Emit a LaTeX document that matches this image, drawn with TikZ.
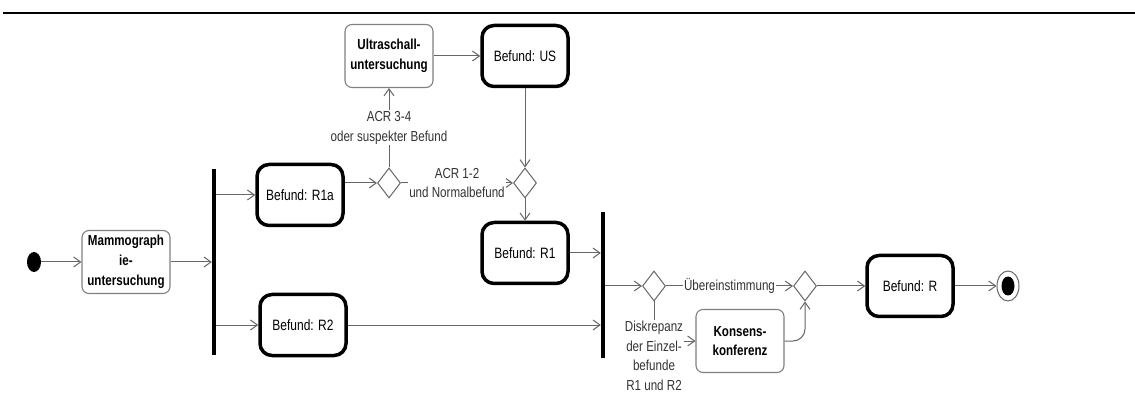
\documentclass[tikz,border=0pt]{standalone}
\usepackage{fontspec}
\setmainfont{Liberation Sans}[FakeStretch=0.8]
\usetikzlibrary{shapes.geometric, positioning, arrows.meta}

\begin{document}
\begin{tikzpicture}[x=1pt,y=-1pt,
% Action and result styles
    act/.style={rectangle,rounded corners=7pt,draw=black!50,line width=1.1pt,
		minimum width=88pt,minimum height=63pt,align=center,
		font=\bfseries\fontsize{14.5}{19.8}\selectfont},
    res/.style={rectangle,rounded corners=12pt,draw,line width=3.5pt,
		minimum width=86pt,minimum height=61pt,
		font=\fontsize{15}{18}\selectfont},
% Decision, fork and end point style
    dec/.style={diamond,draw=black!60,line width=1pt,inner sep=0pt,
		minimum width=23pt,minimum height=30pt},
    bar/.style={rectangle,fill=black,inner sep=0pt,minimum width=4pt},
    start/.style={ellipse,fill=black,inner sep=0pt,
		minimum width=14pt,minimum height=20pt},
    stop/.style={ellipse,draw=black!60,line width=1pt,inner sep=0pt,
		minimum width=22pt,minimum height=30pt},
% Label style
    lbl/.style={fill=white,inner sep=1pt,align=center,text=black!80,
		font=\fontsize{14.5}{19.6}\selectfont},
% Connector style
    line/.style={draw=black!60,line width=1pt},
    flow/.style={line,-{Straight Barb[length=7pt,width=10pt]}}
    ]
%% Page rule and frame
   \useasboundingbox (0,0) rectangle (1135,403);
   \draw [line width=2.5pt] (3,13) -- (1135,13);
%% Place nodes
   \node (ini) [start]			at (34,262)	{};
   \node (mam) [act]			at (126,262)	{Mammograph\\ie-\\untersuchung};
   \node (f1)  [bar,minimum height=185pt]	at (214,262)	{};
   \node (r1a) [res]			at (300,195)	{Befund: R1a};
   \node (r2)  [res]			at (303,325)	{Befund: R2};
   \node (d1)  [dec]			at (389,183)	{};
   \node (uss) [act]			at (389,56)	{Ultraschall-\\untersuchung};
   \node (us)  [res]			at (525,56)	{Befund: US};
   \node (d2)  [dec]			at (525,183)	{};
   \node (r1)  [res]			at (525,253)	{Befund: R1};
   \node (f2)  [bar,minimum height=145pt]	at (603,285)	{};
   \node (d3)  [dec]			at (654,286)	{};
   \node (dis) [lbl]			at (654,356)	{Diskrepanz\\der Einzel-\\befunde\\R1 und R2};
   \node (kon) [act]			at (740,341)	{Konsens-\\konferenz};
   \node (d4)  [dec]			at (805,286)	{};
   \node (r)   [res]			at (910,286)	{Befund: R};
   \node (fin) [stop]			at (1008,286)	{};
   \fill (fin.center) ellipse [x radius=6.5pt,y radius=9.5pt];
%% Draw flows
   \draw [flow] (ini) -- (mam);
   \draw [flow] (mam) -- (f1);
   \draw [flow] (f1.east |- r1a) -- (r1a);
   \draw [flow] (f1.east |- r2) -- (r2);
   \draw [flow] (r1a.east |- d1) -- (d1);
   \draw [flow] (d1) -- node [lbl] {ACR 3-4\\oder suspekter Befund} (uss);
   \draw [flow] (d1) -- node [lbl] {ACR 1-2\\und Normalbefund} (d2);
   \draw [flow] (uss) -- (us);
   \draw [flow] (us) -- (d2);
   \draw [flow] (d2) -- (r1);
   \draw [flow] (r1) -- (r1 -| f2.west);
   \draw [flow] (r2) -- (r2 -| f2.west);
   \draw [flow] (f2.east |- d3) -- (d3);
   \draw [flow] (d3) -- node [lbl] {Übereinstimmung} (d4);
   \draw [line] (d3) -- (dis);
   \draw [flow] (kon.west -| dis.east) -- (kon);
   \draw [flow,rounded corners=12pt] (kon) -| (d4);
   \draw [flow] (d4) -- (r);
   \draw [flow] (r) -- (fin);
\end{tikzpicture}
\end{document}
